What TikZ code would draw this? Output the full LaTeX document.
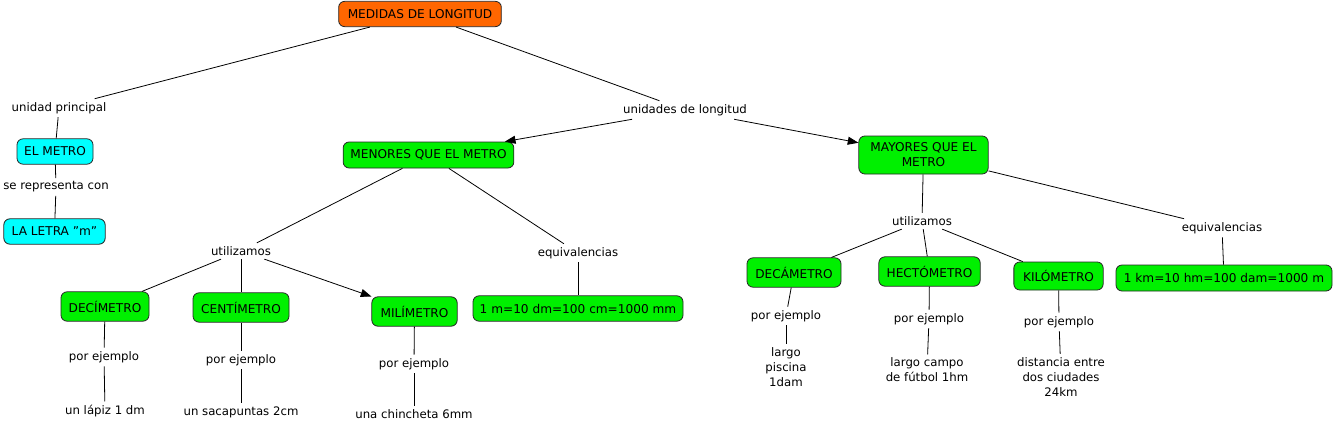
\documentclass[tikz,border=0pt]{standalone}
\usepackage{fontspec}
\setmainfont{DejaVu Sans}
\usetikzlibrary{arrows.meta}
\definecolor{conceptorange}{RGB}{255,102,0}
\definecolor{conceptcyan}{RGB}{0,255,255}
\definecolor{conceptgreen}{RGB}{0,240,0}
\tikzstyle{concept}=[draw=black!85, line width=0.6pt, rounded corners=4.5pt, align=center, inner sep=0pt, font=\fontsize{9.1}{11.25}\selectfont]
\tikzstyle{phrase}=[align=center, inner sep=2.5pt]
\tikzstyle{link}=[line width=0.6pt]
\tikzstyle{linkarrow}=[link, -{Triangle[length=8pt,width=6pt]}]

\begin{document}
\begin{tikzpicture}[x=0.75pt, y=-0.75pt, font=\fontsize{8.8}{11.25}\selectfont]
  \useasboundingbox (0,0) rectangle (1333,428);

  \node[concept, fill=conceptorange, minimum width=122pt, minimum height=19pt] (medidas) at (420,14) {MEDIDAS DE LONGITUD};

  \node[phrase] (unidadp) at (59,108) {unidad principal};
  \node[concept, fill=conceptcyan, minimum width=57pt, minimum height=19pt] (metro) at (55,151.5) {EL METRO};
  \node[phrase] (serep) at (56,187) {se representa con};
  \node[concept, fill=conceptcyan, minimum width=76pt, minimum height=19pt] (letra) at (54.5,231.5) {LA LETRA \symbol{34}m\symbol{34}};

  \node[phrase] (unidades) at (685,110) {unidades de longitud};
  \node[concept, fill=conceptgreen, minimum width=128pt, minimum height=19.5pt] (menores) at (428.5,155) {MENORES QUE EL METRO};
  \node[concept, fill=conceptgreen, minimum width=97pt, minimum height=28.5pt] (mayores) at (923.5,155) {MAYORES QUE EL\\METRO};

  \node[phrase] (utilmen) at (241,251) {utilizamos};
  \node[phrase] (equivmen) at (578,253) {equivalencias};
  \node[concept, fill=conceptgreen, minimum width=66pt, minimum height=22pt] (deci) at (105,306.5) {DECÍMETRO};
  \node[concept, fill=conceptgreen, minimum width=72pt, minimum height=22pt] (centi) at (241,307.5) {CENTÍMETRO};
  \node[concept, fill=conceptgreen, minimum width=64pt, minimum height=22pt] (mili) at (414.5,311.5) {MILÍMETRO};
  \node[concept, fill=conceptgreen, minimum width=157.5pt, minimum height=19pt] (eqmetro) at (578,308.5) {1 m=10 dm=100 cm=1000 mm};
  \node[phrase] (ejdeci) at (104,357) {por ejemplo};
  \node[phrase] (ejcenti) at (241,360) {por ejemplo};
  \node[phrase] (ejmili) at (414,364) {por ejemplo};
  \node[phrase] (lapiz) at (105,411) {un lápiz 1 dm};
  \node[phrase] (sacapuntas) at (241,412) {un sacapuntas 2cm};
  \node[phrase] (chincheta) at (414,414) {una chincheta 6mm};

  \node[phrase] (utilmay) at (922,221) {utilizamos};
  \node[phrase] (equivmay) at (1222,228) {equivalencias};
  \node[concept, fill=conceptgreen, minimum width=70.5pt, minimum height=22pt] (deca) at (794,272.5) {DECÁMETRO};
  \node[concept, fill=conceptgreen, minimum width=76pt, minimum height=22pt] (hecto) at (929.5,271.5) {HECTÓMETRO};
  \node[concept, fill=conceptgreen, minimum width=67pt, minimum height=21pt] (kilo) at (1058.5,276) {KILÓMETRO};
  \node[concept, fill=conceptgreen, minimum width=162pt, minimum height=19.5pt] (eqkilo) at (1224,278) {1 km=10 hm=100 dam=1000 m};
  \node[phrase] (ejdeca) at (786,316) {por ejemplo};
  \node[phrase] (ejhecto) at (929,319) {por ejemplo};
  \node[phrase] (ejkilo) at (1059,322) {por ejemplo};
  \node[phrase] (piscina) at (786,367.5) {largo\\piscina\\1dam};
  \node[phrase] (campo) at (927,370) {largo campo\\de fútbol 1hm};
  \node[phrase] (ciudades) at (1061,377) {distancia entre\\dos ciudades\\24km};

  \foreach \a/\b in {medidas/unidadp, unidadp/metro, metro/serep, serep/letra,
      medidas/unidades, menores/utilmen, menores/equivmen,
      utilmen/deci, utilmen/centi, equivmen/eqmetro,
      deci/ejdeci, ejdeci/lapiz, centi/ejcenti, ejcenti/sacapuntas, mili/ejmili, ejmili/chincheta,
      mayores/utilmay, mayores/equivmay, utilmay/deca, utilmay/hecto, utilmay/kilo, equivmay/eqkilo,
      deca/ejdeca, ejdeca/piscina, hecto/ejhecto, ejhecto/campo, kilo/ejkilo, ejkilo/ciudades}
    \draw[link] (\a) -- (\b);
  \draw[linkarrow] (unidades) -- (menores);
  \draw[linkarrow] (unidades) -- (mayores);
  \draw[linkarrow] (utilmen) -- (mili);
\end{tikzpicture}
\end{document}
